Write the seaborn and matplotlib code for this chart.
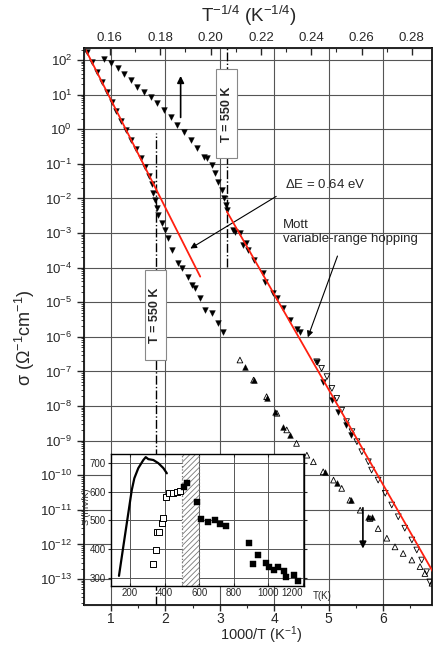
import numpy as np
import matplotlib
matplotlib.use('Agg')
import matplotlib.pyplot as plt
import matplotlib.ticker as mticker
from matplotlib.patches import Rectangle
import seaborn as sns

# conductivity data, x = 1000/T (1/K), y = log10(sigma / (Ohm^-1 cm^-1))
upper_x = [0.88, 1.00, 1.12, 1.24, 1.36, 1.48, 1.61, 1.73, 1.85, 1.97, 2.10, 2.22,
           2.34, 2.47, 2.59, 2.71, 2.76, 2.85, 2.91, 2.97, 3.04, 3.08, 3.11, 3.14,
           3.24, 3.28, 3.37, 3.43, 3.49, 3.52, 3.62, 3.80, 3.83, 3.98, 4.05, 4.17,
           4.29, 4.41, 4.47]
upper_y = [2.03, 1.90, 1.76, 1.59, 1.42, 1.23, 1.08, 0.94, 0.75, 0.56, 0.36, 0.12,
           -0.07, -0.31, -0.55, -0.79, -0.84, -1.03, -1.27, -1.52, -1.76, -2.00, -2.19, -2.34,
           -2.91, -2.96, -3.00, -3.35, -3.30, -3.49, -3.78, -4.16, -4.41, -4.74, -4.89, -5.18,
           -5.51, -5.76, -5.85]

left_x = [0.56, 0.65, 0.74, 0.83, 0.92, 1.01, 1.10, 1.19, 1.28, 1.37, 1.46, 1.55,
          1.63, 1.70, 1.75, 1.78, 1.81, 1.84, 1.87, 1.93, 1.99, 2.05, 2.12, 2.24,
          2.30, 2.42, 2.48, 2.54, 2.64, 2.73, 2.85, 2.97, 3.06]
left_y = [2.22, 1.95, 1.66, 1.37, 1.08, 0.80, 0.52, 0.25, -0.02, -0.30, -0.58, -0.84,
          -1.08, -1.34, -1.58, -1.85, -2.05, -2.29, -2.48, -2.72, -2.91, -3.15, -3.49, -3.88,
          -4.02, -4.26, -4.50, -4.60, -4.89, -5.23, -5.32, -5.61, -5.85]

# low temperature branches (open symbols)
lowa_x = [3.37, 3.62, 3.86, 4.05, 4.23, 4.41, 4.60, 4.72, 4.90, 5.09, 5.24, 5.39,
          5.58, 5.76, 5.91, 6.07, 6.22, 6.37, 6.53, 6.68, 6.77, 6.90]
lowa_y = [-6.67, -7.25, -7.73, -8.21, -8.69, -9.08, -9.42, -9.61, -9.90, -10.14, -10.38, -10.72,
          -11.01, -11.25, -11.54, -11.82, -12.07, -12.26, -12.45, -12.64, -12.84, -13.12]
lowa_fx = [3.46, 3.62, 3.86, 4.01, 4.17, 4.29, 4.93, 5.15, 5.42, 5.73, 5.79]
lowa_fy = [-6.86, -7.25, -7.78, -8.16, -8.60, -8.84, -9.90, -10.23, -10.72, -11.20, -11.20]

lowb_x = [4.78, 4.87, 4.97, 5.06, 5.15, 5.24, 5.33, 5.43, 5.52, 5.61, 5.73, 5.79,
          5.91, 6.04, 6.16, 6.28, 6.40, 6.53, 6.62, 6.71, 6.80, 6.86]
lowb_y = [-6.72, -6.91, -7.15, -7.49, -7.78, -8.12, -8.45, -8.74, -9.03, -9.32, -9.61, -9.85,
          -10.14, -10.52, -10.86, -11.20, -11.53, -11.87, -12.16, -12.45, -12.79, -13.08]
lowb_fx = [4.78, 4.90, 5.06, 5.18, 5.32, 5.42]
lowb_fy = [-6.72, -7.30, -7.83, -8.16, -8.55, -8.84]

# fits: activated (dE = 0.64 eV) and Mott VRH, end points
act_x = [0.52, 2.64]
act_y = [2.34, -4.26]
mott_x = [3.13, 6.92]
mott_y = [-2.38, -12.80]
t_mark = 550

# inset: thermopower S (mV/K) vs T (K)
s_line_T = [136, 161, 187, 210, 225, 248, 277, 291, 306, 335, 364, 393, 413]
s_line_S = [308, 409, 513, 605, 646, 681, 709, 719, 712, 709, 698, 681, 663]
s_open_T = [335, 351, 358, 370, 384, 393, 409, 428, 451, 471, 490]
s_open_S = [348, 398, 461, 461, 490, 510, 582, 596, 594, 598, 603]
s_fill_T = [511, 530, 588, 610, 654, 693, 718, 757, 886, 909, 938, 988, 1002, 1031,
            1054, 1089, 1104, 1147, 1172]
s_fill_S = [617, 629, 565, 504, 496, 502, 487, 481, 421, 350, 380, 354, 338, 329,
            338, 326, 305, 311, 291]


def p10(v):
    return [10.0 ** a for a in v]


sns.set_style('ticks')
plt.rcParams['font.family'] = ['Liberation Sans', 'DejaVu Sans']
plt.rcParams['mathtext.default'] = 'regular'
plt.rcParams['hatch.linewidth'] = 0.6

fig = plt.figure(figsize=(4.33, 6.45), dpi=100)
ax = fig.add_axes([0.194, 0.062, 0.8037, 0.8636])
ax.set_yscale('log')
xlo, xhi = 0.504, 6.9
tlo, thi = 0.1497, 0.2880
ax.set_xlim(xlo, xhi)
ax.set_ylim(10 ** -13.75, 10 ** 2.347)

ms = 17
sns.scatterplot(x=left_x, y=p10(left_y), marker='v', color='black', s=ms,
                edgecolor='black', linewidth=0.3, ax=ax, zorder=3)
sns.scatterplot(x=upper_x, y=p10(upper_y), marker='v', color='black', s=ms,
                edgecolor='black', linewidth=0.3, ax=ax, zorder=3)
sns.scatterplot(x=lowa_x, y=p10(lowa_y), marker='^', facecolor='none', s=ms,
                edgecolor='black', linewidth=0.6, ax=ax, zorder=3)
sns.scatterplot(x=lowa_fx, y=p10(lowa_fy), marker='^', color='black', s=ms,
                edgecolor='black', linewidth=0.3, ax=ax, zorder=3)
sns.scatterplot(x=lowb_x, y=p10(lowb_y), marker='v', facecolor='none', s=ms,
                edgecolor='black', linewidth=0.6, ax=ax, zorder=3)
sns.scatterplot(x=lowb_fx, y=p10(lowb_fy), marker='v', color='black', s=ms,
                edgecolor='black', linewidth=0.3, ax=ax, zorder=3)

sns.lineplot(x=act_x, y=p10(act_y), color='#ff2010', lw=1.3, ax=ax, zorder=4)
sns.lineplot(x=mott_x, y=p10(mott_y), color='#ff2010', lw=1.3, ax=ax, zorder=4)

# 550 K markers: one on the 1000/T scale, one on the T^-1/4 scale
ax.axvline(1000 / t_mark, ymin=0, ymax=0.847, color='black', ls='-.', lw=1.0, zorder=2)
x_top550 = xlo + (t_mark ** -0.25 - tlo) / (thi - tlo) * (xhi - xlo)
ax.axvline(x_top550, ymin=0.607, ymax=1, color='black', ls='-.', lw=1.0, zorder=2)
ax.add_patch(Rectangle((1.625, 10 ** -6.67), 0.386, 10 ** -4.07 - 10 ** -6.67,
                       fc='white', ec='#888888', lw=0.8, zorder=5))
ax.text(1.818, 10 ** -5.37, 'T = 550 K', rotation=90, ha='center', va='center',
        fontsize=9, fontweight='bold', zorder=6)
ax.add_patch(Rectangle((x_top550 - 0.193, 10 ** -0.83), 0.386, 10 ** 1.74 - 10 ** -0.83,
                       fc='white', ec='#888888', lw=0.8, zorder=5))
ax.text(x_top550, 10 ** 0.44, 'T = 550 K', rotation=90, ha='center', va='center',
        fontsize=9, fontweight='bold', zorder=6)

# arrows and labels
arw = dict(arrowstyle='-|>', color='black', lw=1.2, mutation_scale=10)
ax.annotate('', xy=(2.28, 10 ** 1.62), xytext=(2.28, 10 ** 0.26), arrowprops=arw)
ax.annotate('', xy=(5.63, 10 ** -12.2), xytext=(5.63, 10 ** -10.86), arrowprops=arw)
thin = dict(arrowstyle='-|>', color='black', lw=0.8, mutation_scale=9)
ax.annotate('', xy=(2.415, 10 ** -3.49), xytext=(4.08, 10 ** -1.90), arrowprops=thin)
ax.text(4.2, 10 ** -1.61, '$\\Delta$E = 0.64 eV', fontsize=9.5, va='center', ha='left')
ax.annotate('', xy=(4.60, 10 ** -6.09), xytext=(5.18, 10 ** -3.59), arrowprops=thin)
ax.text(4.16, 10 ** -2.97, 'Mott\nvariable-range hopping', fontsize=9.5, va='center',
        ha='left', linespacing=1.15)

ax.grid(True, which='major', color='#555555', lw=0.8)
ax.xaxis.set_major_locator(mticker.MultipleLocator(1))
ax.xaxis.set_minor_locator(mticker.MultipleLocator(0.5))
ax.yaxis.set_major_locator(mticker.LogLocator(base=10, numticks=40))
ax.yaxis.set_minor_locator(mticker.LogLocator(base=10, subs=np.arange(2, 10), numticks=200))
ax.yaxis.set_minor_formatter(mticker.NullFormatter())
ax.tick_params(axis='x', which='major', direction='out', length=4, width=1, labelsize=10,
               top=False, pad=1)
ax.tick_params(axis='x', which='minor', direction='out', length=2.5, width=0.8, top=False)
ax.tick_params(axis='y', which='major', direction='out', length=5, width=1, labelsize=9.5,
               right=True)
ax.tick_params(axis='y', which='minor', direction='out', length=2.5, width=0.6)
for sp in ax.spines.values():
    sp.set_linewidth(1.2)
    sp.set_color('black')
ax.set_xlabel('1000/T (K$^{-1}$)', fontsize=10.5)
ax.xaxis.set_label_coords(0.51, -0.035)
ax.set_ylabel('$\\sigma$ ($\\Omega^{-1}$cm$^{-1}$)', fontsize=13)
ax.yaxis.set_label_coords(-0.135, 0.48)

# top axis in T^-1/4
ax_top = ax.twiny()
ax_top.set_xlim(tlo, thi)
ax_top.xaxis.set_major_locator(mticker.MultipleLocator(0.02))
ax_top.xaxis.set_minor_locator(mticker.MultipleLocator(0.01))
ax_top.xaxis.set_major_formatter(mticker.FormatStrFormatter('%.2f'))
ax_top.tick_params(axis='x', which='major', direction='in', length=5, width=1, labelsize=9.5, pad=3)
ax_top.tick_params(axis='x', which='minor', direction='in', length=3, width=0.8)
ax_top.set_xlabel('T$^{-1/4}$ (K$^{-1/4}$)', fontsize=13.5, labelpad=4)
ax_top.xaxis.set_label_coords(0.474, 1.046)

# inset
ax_in = fig.add_axes([0.2564, 0.0915, 0.4457, 0.2047], zorder=10)
ax_in.set_facecolor('white')
ax_in.set_xlim(90, 1207)
ax_in.set_ylim(273, 730)
ax_in.axvspan(500, 600, facecolor='white', edgecolor='#777777', hatch='//////', lw=0, zorder=1)
ax_in.axvline(500, color='#777777', ls=':', lw=0.9, zorder=1.5)
ax_in.axvline(600, color='#777777', ls=':', lw=0.9, zorder=1.5)
sns.lineplot(x=s_line_T, y=s_line_S, sort=False, color='black', lw=1.6, ax=ax_in, zorder=3)
sns.scatterplot(x=s_open_T, y=s_open_S, marker='s', facecolor='white', s=14,
                edgecolor='black', linewidth=0.7, ax=ax_in, zorder=3)
sns.scatterplot(x=s_fill_T, y=s_fill_S, marker='s', color='black', s=16,
                edgecolor='black', linewidth=0.3, ax=ax_in, zorder=3)
ax_in.grid(True, color='#555555', lw=0.7, zorder=0)
ax_in.set_axisbelow(True)
ax_in.set_xticks([200, 400, 600, 800, 1000, 1200], ['200', '400', '600', '800', '1000', '1200'])
ax_in.get_xticklabels()[-1].set_horizontalalignment('right')
ax_in.set_yticks([300, 400, 500, 600, 700])
ax_in.tick_params(axis='both', direction='out', length=2.5, width=0.8, labelsize=7, pad=1.5)
ax_in.tick_params(axis='x', top=True, direction='in')
ax_in.tick_params(axis='y', right=True)
for sp in ax_in.spines.values():
    sp.set_linewidth(1.0)
    sp.set_color('black')
ax_in.set_ylabel('S (mV/K)', fontsize=6.5, labelpad=1)
ax_in.yaxis.set_label_coords(-0.105, 0.6)
ax_in.text(1.047, -0.076, 'T(K)', transform=ax_in.transAxes, fontsize=7, ha='left', va='center')

fig.savefig('out.png', dpi=100)
